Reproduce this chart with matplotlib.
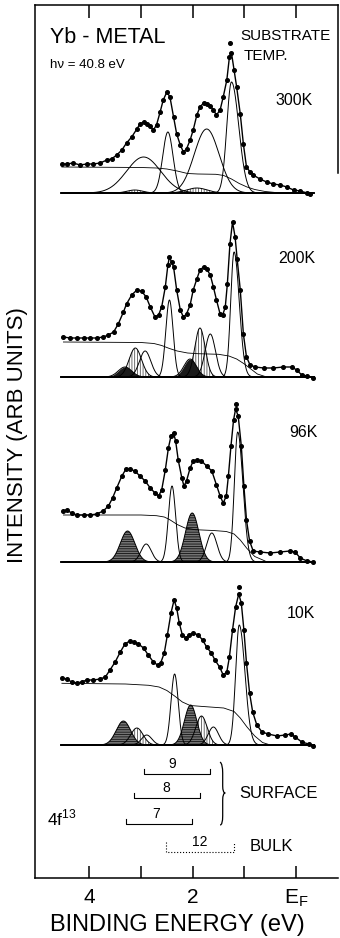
import numpy as np
import matplotlib.pyplot as plt
from matplotlib.path import Path
from matplotlib.patches import PathPatch

plt.rcParams['font.family'] = ['Liberation Sans', 'DejaVu Sans']
plt.rcParams['mathtext.fontset'] = 'custom'
plt.rcParams['mathtext.rm'] = 'Liberation Sans'
plt.rcParams['hatch.linewidth'] = 0.5

temps = ['300K', '200K', '96K', '10K']
offsets = [685, 501, 316, 133]

# measured spectra: binding energy (eV) / intensity (arb. units above each baseline)
e_300 = [4.53, 4.44, 4.31, 4.18, 4.05, 3.92, 3.79, 3.66, 3.57, 3.47,
         3.37, 3.28, 3.18, 3.08, 3.02, 2.95, 2.89, 2.83, 2.76, 2.70,
         2.63, 2.57, 2.50, 2.44, 2.37, 2.31, 2.24, 2.18, 2.12, 2.05,
         1.99, 1.92, 1.86, 1.79, 1.73, 1.66, 1.60, 1.54, 1.47, 1.41,
         1.34, 1.29, 1.25, 1.20, 1.15, 1.08, 1.02, 0.96, 0.89, 0.83,
         0.70, 0.57, 0.44, 0.31, 0.18, 0.05, -0.08, -0.21, -0.27]
i_300 = [29, 29, 30, 28, 29, 29, 30, 33, 34, 38,
         43, 50, 56, 64, 69, 71, 69, 67, 63, 68,
         81, 93, 101, 96, 76, 59, 48, 41, 44, 53,
         63, 78, 86, 90, 89, 87, 83, 78, 83, 96,
         113, 136, 140, 123, 106, 79, 49, 26, 21, 18,
         14, 11, 9, 8, 6, 3, 2, 0, -1]

e_200 = [4.50, 4.37, 4.24, 4.11, 3.98, 3.86, 3.73, 3.63, 3.53, 3.44,
         3.34, 3.28, 3.18, 3.08, 2.99, 2.90, 2.82, 2.73, 2.66, 2.60,
         2.53, 2.48, 2.45, 2.41, 2.37, 2.31, 2.24, 2.18, 2.12, 2.05,
         1.99, 1.92, 1.86, 1.79, 1.73, 1.66, 1.60, 1.54, 1.47, 1.42,
         1.37, 1.33, 1.28, 1.23, 1.18, 1.14, 1.08, 1.02, 0.96, 0.89,
         0.79, 0.63, 0.44, 0.25, 0.08, -0.01, -0.11, -0.21, -0.33]
i_200 = [40, 39, 39, 39, 39, 39, 40, 42, 45, 53,
         65, 73, 82, 87, 86, 80, 70, 60, 62, 70,
         90, 112, 120, 115, 110, 87, 67, 60, 63, 72,
         87, 98, 107, 110, 108, 102, 90, 77, 63, 62,
         70, 93, 133, 155, 140, 118, 87, 43, 20, 12,
         10, 9, 9, 10, 10, 7, 2, 1, -1]

e_96 = [4.50, 4.44, 4.34, 4.24, 4.11, 3.98, 3.86, 3.73, 3.63, 3.55,
        3.47, 3.37, 3.29, 3.21, 3.12, 3.02, 2.92, 2.82, 2.73, 2.66,
        2.60, 2.53, 2.47, 2.42, 2.37, 2.33, 2.28, 2.21, 2.17, 2.12,
        2.05, 1.99, 1.92, 1.83, 1.73, 1.63, 1.54, 1.47, 1.41, 1.35,
        1.31, 1.26, 1.21, 1.17, 1.12, 1.06, 1.01, 0.96, 0.90, 0.83,
        0.70, 0.50, 0.31, 0.12, 0.02, -0.08, -0.21, -0.33]
i_96 = [51, 52, 49, 47, 47, 47, 48, 51, 56, 64,
        74, 86, 93, 93, 91, 86, 81, 74, 69, 66,
        72, 92, 114, 126, 129, 121, 102, 84, 76, 81,
        94, 101, 102, 101, 96, 91, 77, 66, 59, 66,
        86, 116, 142, 153, 146, 116, 76, 42, 21, 11,
        10, 9, 10, 11, 10, 4, 1, 0]

e_10 = [4.53, 4.44, 4.34, 4.24, 4.15, 4.05, 3.92, 3.79, 3.69, 3.60,
        3.50, 3.40, 3.31, 3.22, 3.13, 3.05, 2.95, 2.86, 2.76, 2.68,
        2.62, 2.55, 2.49, 2.42, 2.36, 2.31, 2.26, 2.20, 2.13, 2.07,
        1.99, 1.89, 1.81, 1.73, 1.64, 1.57, 1.48, 1.41, 1.34, 1.29,
        1.23, 1.17, 1.11, 1.06, 1.01, 0.96, 0.90, 0.84, 0.76, 0.66,
        0.54, 0.37, 0.21, 0.10, 0.02, -0.11, -0.24, -0.33]
i_10 = [67, 66, 63, 62, 63, 65, 65, 66, 68, 75,
        83, 93, 101, 104, 103, 101, 97, 90, 83, 80,
        82, 92, 110, 132, 145, 137, 122, 110, 107, 110,
        112, 110, 105, 98, 92, 85, 78, 70, 73, 88,
        115, 138, 151, 142, 115, 82, 52, 33, 20, 13,
        11, 9, 10, 11, 8, 3, 1, -1]

# single highest points above the peaks
top_e = [1.28, None, 1.16, 1.10]
top_i = [150, None, 158, 158]

# background curves
bg_e_300 = [4.53, 3.0, 2.7, 2.5, 2.3, 2.1, 1.9, 1.55, 1.40, 1.25, 1.1, 0.95, 0.8, 0.6, 0.4]
bg_i_300 = [26, 25.5, 25, 24, 22, 19.5, 19, 18.7, 17.5, 14, 9.5, 6, 3.5, 1.5, 0.5]
bg_e_200 = [4.50, 3.0, 2.75, 2.6, 2.45, 2.3, 2.1, 1.9, 1.5, 1.3, 1.15, 1.0, 0.85, 0.75, 0.6]
bg_i_200 = [35, 34.5, 33.5, 31.5, 28.5, 26, 24, 23.3, 22.7, 21, 18, 13, 7, 3, 0.5]
bg_e_96 = [4.50, 3.0, 2.7, 2.55, 2.45, 2.3, 2.15, 1.95, 1.6, 1.35, 1.2, 1.08, 0.95, 0.8, 0.6]
bg_i_96 = [47, 47, 46.3, 45, 42.5, 37.5, 34, 32.3, 31.5, 30.5, 28, 22, 13.5, 5.5, 1]
bg_e_10 = [4.53, 3.3, 2.85, 2.65, 2.5, 2.35, 2.2, 2.05, 1.8, 1.4, 1.2, 1.08, 0.95, 0.8, 0.65, 0.5]
bg_i_10 = [61.7, 61, 59.7, 58, 54.5, 49, 43, 39.5, 38.5, 37, 33.5, 27, 18, 9, 2.5, 0]

# fitted components: centre (eV), height, width on high-E side, width on low-E side
pk_c_300 = [2.95, 2.48, 1.73, 1.25, 3.12, 1.92]
pk_h_300 = [36, 61, 64, 111, 3, 5]
pk_wl_300 = [0.33, 0.10, 0.24, 0.09, 0.15, 0.20]
pk_wr_300 = [0.33, 0.10, 0.24, 0.14, 0.15, 0.20]

pk_c_200 = [3.11, 1.86, 3.31, 2.05, 2.92, 2.45, 1.66, 1.20]
pk_h_200 = [29, 49, 10, 18, 26, 77, 43, 125]
pk_wl_200 = [0.12, 0.10, 0.13, 0.12, 0.11, 0.07, 0.10, 0.065]
pk_wr_200 = [0.12, 0.10, 0.13, 0.12, 0.11, 0.07, 0.10, 0.10]

pk_c_96 = [3.26, 2.01, 2.90, 2.40, 1.63, 1.13]
pk_h_96 = [31, 49, 18, 76, 29, 130]
pk_wl_96 = [0.14, 0.13, 0.10, 0.07, 0.10, 0.065]
pk_wr_96 = [0.14, 0.13, 0.10, 0.07, 0.10, 0.10]

pk_c_10 = [3.08, 1.83, 3.34, 2.04, 2.89, 2.35, 1.60, 1.10]
pk_h_10 = [17, 29, 24, 40, 10, 71, 18, 120]
pk_wl_10 = [0.12, 0.11, 0.14, 0.12, 0.10, 0.07, 0.10, 0.07]
pk_wr_10 = [0.12, 0.11, 0.14, 0.12, 0.10, 0.07, 0.10, 0.11]

# multiplet brackets
brk_labels = ['9', '8', '7', '12']
brk_left = [2.95, 3.13, 3.29, 2.51]
brk_right = [1.66, 1.86, 2.01, 1.21]
brk_y = [104, 80, 54, 26]
brk_label_e = [2.39, 2.52, 2.70, 1.87]

spectra = [(e_300, i_300), (e_200, i_200), (e_96, i_96), (e_10, i_10)]
backgrounds = [(bg_e_300, bg_i_300), (bg_e_200, bg_i_200), (bg_e_96, bg_i_96), (bg_e_10, bg_i_10)]
peaks = [(pk_c_300, pk_h_300, pk_wl_300, pk_wr_300),
         (pk_c_200, pk_h_200, pk_wl_200, pk_wr_200),
         (pk_c_96, pk_h_96, pk_wl_96, pk_wr_96),
         (pk_c_10, pk_h_10, pk_wl_10, pk_wr_10)]
fills = [['', '', '', '', 'hatch', 'hatch'],
         ['hatch', 'hatch', 'solid', 'solid', '', '', '', ''],
         ['dark', 'dark', '', '', '', ''],
         ['hatch', 'hatch', 'dark', 'dark', '', '', '', '']]

fig = plt.figure(figsize=(3.4, 9.38), dpi=100)
ax = fig.add_axes([35 / 340, 60 / 938, 303 / 340, 873 / 938])

eg = np.linspace(4.55, -0.35, 900)

def peak(c, h, wl, wr):
    w = np.where(eg >= c, wl, wr)
    return h * np.exp(-0.5 * ((eg - c) / w) ** 2)

for k in range(4):
    off = offsets[k]
    pc, ph, pwl, pwr = peaks[k]
    curves = [peak(pc[j], ph[j], pwl[j], pwr[j]) for j in range(len(pc))]
    for j, y in enumerate(curves):
        kind = fills[k][j]
        m = y > 0.3
        if kind == 'hatch':
            ax.fill_between(eg, off, off + y, where=m, facecolor='white',
                            edgecolor='0.2', hatch='||||||', lw=0)
        elif kind == 'solid':
            ax.fill_between(eg, off, off + y, where=m, facecolor='0.1',
                            edgecolor='0.1', lw=0)
        elif kind == 'dark':
            ax.fill_between(eg, off, off + y, where=m, facecolor='0.45',
                            edgecolor='k', hatch='-------', lw=0)
    for y in curves:
        ax.plot(eg, off + y, color='k', lw=0.7)
    be, bi = backgrounds[k]
    ax.plot(be, off + np.array(bi), color='k', lw=0.6)
    se, si = spectra[k]
    ax.plot([se[0], se[-1]], [off, off], color='k', lw=1.3)
    ax.plot(se, off + np.array(si), color='k', lw=1.0, marker='o', ms=2.6)
    if top_e[k] is not None:
        ax.plot([top_e[k]], [off + top_i[k]], 'o', color='k', ms=2.6)

# temperature labels
temp_e = [-0.33, -0.37, -0.41, -0.37]
temp_y = [773, 615, 441, 260]
for k in range(4):
    ax.text(temp_e[k], temp_y[k], temps[k], ha='right', va='baseline', fontsize=11.5)

ax.text(4.76, 835, 'Yb - METAL', ha='left', va='baseline', fontsize=15.5)
ax.text(4.76, 810, 'h\u03bd = 40.8 eV', ha='left', va='baseline', fontsize=9.5)
ax.text(1.08, 838, 'SUBSTRATE', ha='left', va='baseline', fontsize=11)
ax.text(1.01, 818, 'TEMP.', ha='left', va='baseline', fontsize=11)

# brackets for the final-state multiplets
for n in range(4):
    ls = ':' if brk_labels[n] == '12' else '-'
    th = 10 if brk_labels[n] == '12' else 5
    ax.plot([brk_left[n], brk_left[n], brk_right[n], brk_right[n]],
            [brk_y[n] + th, brk_y[n], brk_y[n], brk_y[n] + th],
            color='k', lw=0.8, ls=ls)
    ax.text(brk_label_e[n], brk_y[n] + 3, brk_labels[n], ha='center', va='bottom', fontsize=10)

brace = Path([(1.47, 116), (1.42, 114), (1.42, 105), (1.42, 92), (1.42, 85), (1.37, 85),
              (1.42, 85), (1.42, 78), (1.42, 62), (1.42, 53), (1.47, 53)],
             [Path.MOVETO, Path.CURVE3, Path.CURVE3, Path.LINETO, Path.CURVE3, Path.CURVE3,
              Path.CURVE3, Path.CURVE3, Path.LINETO, Path.CURVE3, Path.CURVE3])
ax.add_patch(PathPatch(brace, fill=False, lw=0.9, color='k'))
ax.text(1.10, 85, 'SURFACE', ha='left', va='center', fontsize=12)
ax.text(0.89, 31.5, 'BULK', ha='left', va='center', fontsize=12)
ax.text(4.82, 53, r'4f$^{\mathrm{13}}$', ha='left', va='baseline', fontsize=12.5)

ax.set_xlim(5.05, -0.81)
ax.set_ylim(0, 873)
ax.set_xticks([4, 3, 2, 1, 0])
ax.set_xticklabels(['4', '', '2', '', r'$\mathrm{E_F}$'])
ax.set_yticks([])
ax.tick_params(axis='x', direction='in', top=True, bottom=True, length=9,
               width=1.1, labelsize=15, pad=7)
for s in ax.spines.values():
    s.set_linewidth(1.1)
ax.spines['right'].set_bounds(705, 873)
ax.set_xlabel('BINDING ENERGY (eV)', fontsize=17, va='center')
ax.xaxis.set_label_coords(0.47, -0.054)
ax.set_ylabel('INTENSITY (ARB UNITS)', fontsize=16, va='center')
ax.yaxis.set_label_coords(-0.059, 0.507)

fig.savefig('out.png', dpi=100)
